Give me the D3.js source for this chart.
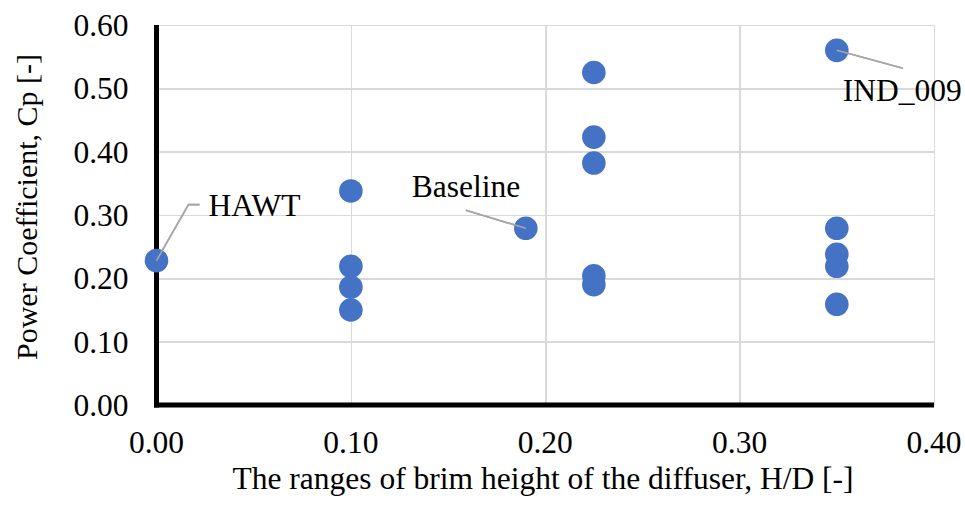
<!DOCTYPE html>
<html lang="en">
<head>
	<meta charset="UTF-8">
	<title>Power coefficient vs brim height</title>
	<style>
		body { margin: 0; background: #fff; }
		svg text { font-family: "Times New Roman", Times, "Liberation Serif", serif; fill: #000; }
		.grid line { stroke: #d9d9d9; stroke-width: 1.5px; shape-rendering: crispEdges; }
		.grid path { stroke-width: 0; }
		.tick-label { font-size: 31.5px; }
		.axis-title { font-size: 31.5px; }
		.y-title { font-size: 30px; }
		.note { font-size: 31.5px; }
		.leader { fill: none; stroke: #a6a6a6; stroke-width: 1.6px; }
		.dot { fill: #4472c4; }
	</style>
	<script src="https://cdn.jsdelivr.net/npm/d3@7"></script>
</head>
<body>
	<div class="wrap"></div>
	<script>
	// data
	var hd = [0.00, 0.10, 0.10, 0.10, 0.10, 0.19, 0.225, 0.225, 0.225, 0.225, 0.225, 0.35, 0.35, 0.35, 0.35, 0.35];
	var cp = [0.228, 0.338, 0.219, 0.186, 0.150, 0.279, 0.525, 0.423, 0.382, 0.204, 0.190, 0.560, 0.279, 0.238, 0.219, 0.159];
	var noteNames = ["HAWT", "Baseline", "IND_009"];
	var notePoints = [0, 5, 11];   // index of the point each note is attached to
	var xTicks = [0, 0.1, 0.2, 0.3, 0.4];
	var yTicks = [0, 0.1, 0.2, 0.3, 0.4, 0.5, 0.6];

	var margin = {top: 25, right: 31, bottom: 100, left: 156.5},
		width = 965 - margin.left - margin.right,
		height = 505 - margin.top - margin.bottom;

	var x = d3.scaleLinear().domain([0, 0.4]).range([0, width]);
	var y = d3.scaleLinear().domain([0, 0.6]).range([height, 0]);

	var svg = d3.select(".wrap").append("svg")
		.attr("width", 965)
		.attr("height", 505)
		.append("g")
		.attr("transform", "translate(" + margin.left + "," + margin.top + ")");

	// gridlines
	svg.append("g")
		.attr("class", "grid")
		.attr("transform", "translate(0," + height + ")")
		.call(d3.axisBottom(x).tickValues(xTicks).tickSize(-height).tickFormat(""));
	svg.append("g")
		.attr("class", "grid")
		.call(d3.axisLeft(y).tickValues(yTicks).tickSize(-width).tickFormat(""));

	// axis lines
	svg.append("line")
		.attr("x1", 0).attr("x2", 0).attr("y1", 0).attr("y2", height + 2.5)
		.attr("stroke", "#000").attr("stroke-width", 5);
	svg.append("line")
		.attr("x1", -2.5).attr("x2", width).attr("y1", height).attr("y2", height)
		.attr("stroke", "#000").attr("stroke-width", 5);

	// tick labels
	svg.selectAll("text.ylab").data(yTicks).enter().append("text")
		.attr("class", "ylab tick-label")
		.attr("x", -28)
		.attr("y", function(d) { return y(d); })
		.attr("dy", "0.35em")
		.attr("text-anchor", "end")
		.text(d3.format(".2f"));
	svg.selectAll("text.xlab").data(xTicks).enter().append("text")
		.attr("class", "xlab tick-label")
		.attr("x", function(d) { return x(d); })
		.attr("y", height + 48)
		.attr("text-anchor", "middle")
		.text(d3.format(".2f"));

	// axis titles
	svg.append("text")
		.attr("class", "axis-title")
		.attr("x", 543 - margin.left)
		.attr("y", height + 84)
		.attr("text-anchor", "middle")
		.text("The ranges of brim height of the diffuser, H/D [-]");
	svg.append("text")
		.attr("class", "y-title")
		.attr("transform", "translate(" + (37 - margin.left) + "," + (y(0.3) - 8) + ") rotate(-90)")
		.attr("text-anchor", "middle")
		.text("Power Coefficient, Cp [-]");

	// note leader lines (drawn under the dots)
	var leaderOffsets = [
		[[0, 0], [32, -56], [43, -56]],
		[[0, 0], [-60, -18]],
		[[0, 0], [66, 18]]
	];
	var textOffsets = [[52, -45], [-114, -31], [6, 51]];

	var leader = d3.line();
	noteNames.forEach(function(name, i) {
		var px = x(hd[notePoints[i]]), py = y(cp[notePoints[i]]);
		svg.append("path")
			.attr("class", "leader")
			.attr("d", leader(leaderOffsets[i].map(function(o) { return [px + o[0], py + o[1]]; })));
	});

	// dots
	svg.selectAll("circle.dot").data(hd).enter().append("circle")
		.attr("class", "dot")
		.attr("r", 11.8)
		.attr("cx", function(d) { return x(d); })
		.attr("cy", function(d, i) { return y(cp[i]); });

	// leader line ends show over the dots
	noteNames.forEach(function(name, i) {
		var px = x(hd[notePoints[i]]), py = y(cp[notePoints[i]]);
		svg.append("path")
			.attr("class", "leader")
			.attr("d", leader(leaderOffsets[i].map(function(o) { return [px + o[0], py + o[1]]; })));
		svg.append("text")
			.attr("class", "note")
			.attr("x", px + textOffsets[i][0])
			.attr("y", py + textOffsets[i][1])
			.text(name);
	});
	</script>
</body>
</html>
